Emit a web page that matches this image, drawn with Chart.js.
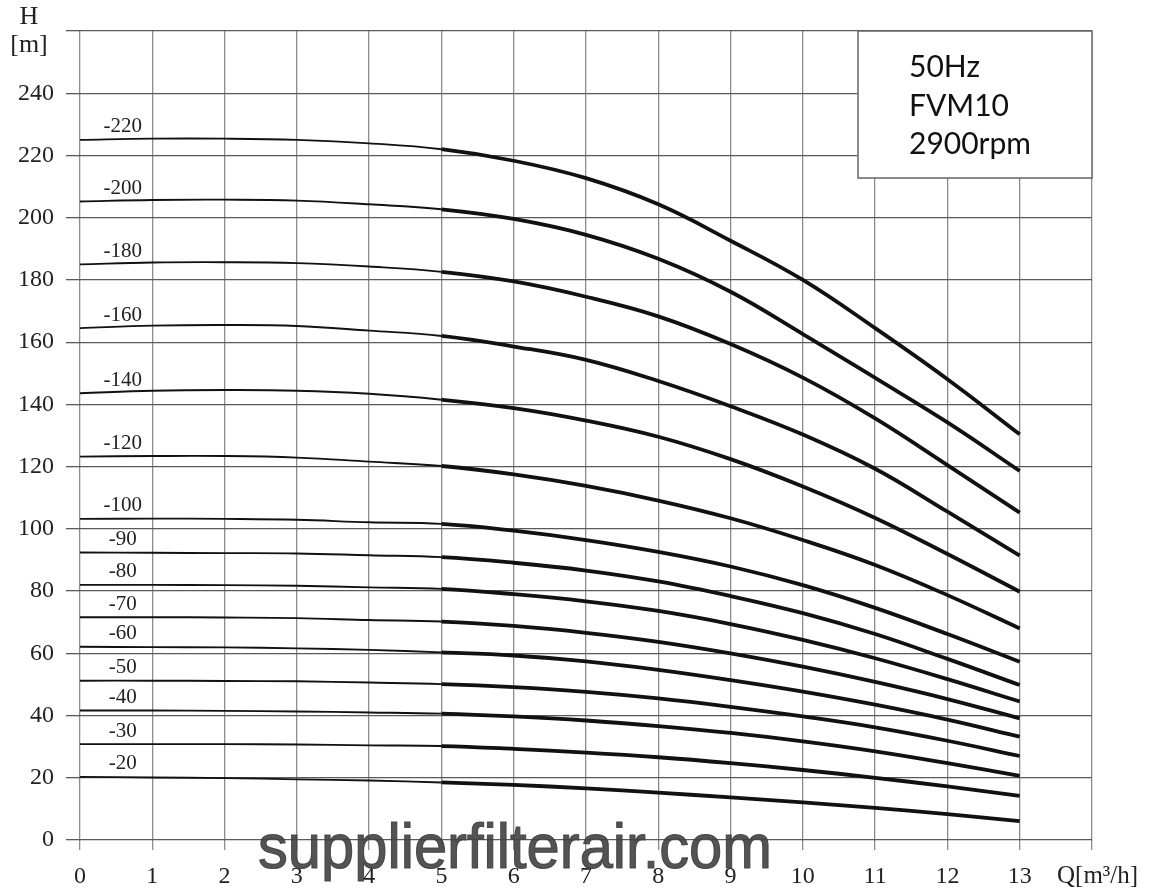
<!DOCTYPE html>
<html>
<head>
<meta charset="utf-8">
<script src="https://cdn.jsdelivr.net/npm/chart.js@4/dist/chart.umd.min.js"></script>
<style>
  html, body { margin: 0; padding: 0; background: #fff; }
  #wrap { width: 1155px; height: 891px; position: relative; }
</style>
</head>
<body>
<div id="wrap"><canvas id="chart"></canvas></div>
<script>
// flow Q [m3/h]
const flows = [0, 1, 2, 3, 4, 5, 6, 7, 8, 9, 10, 11, 12, 13];
const stageNames = ['-220', '-200', '-180', '-160', '-140', '-120', '-100', '-90', '-80', '-70', '-60', '-50', '-40', '-30', '-20'];

// head H [m] for each model
const h220 = [225, 225.4, 225.4, 225, 223.9, 222, 218.3, 212.7, 204.3, 192.6, 180, 164.5, 148.1, 130.4];
const h200 = [205.2, 205.7, 205.8, 205.5, 204.3, 202.7, 199.6, 194.5, 186.8, 176.2, 162.6, 148.5, 134.2, 118.6];
const h180 = [185, 185.6, 185.7, 185.4, 184.3, 182.6, 179.5, 174.6, 168.3, 159.4, 148.6, 135.5, 120.5, 105.2];
const h160 = [164.5, 165.3, 165.5, 165.2, 163.7, 162, 158.6, 154.3, 147.5, 139.4, 130.3, 119.3, 105.5, 91.4];
const h140 = [143.6, 144.4, 144.6, 144.4, 143.4, 141.5, 138.8, 134.8, 129.6, 122.4, 113.6, 103.5, 91.9, 79.8];
const h120 = [123.2, 123.4, 123.4, 122.9, 121.6, 120.2, 117.5, 113.8, 109.1, 103.4, 96.4, 88.4, 78.7, 68];
const h100 = [103.2, 103.3, 103.2, 102.9, 102.1, 101.6, 99.4, 96.4, 92.6, 87.9, 81.9, 74.6, 66.2, 57.3];
const h90 = [92.4, 92.3, 92.2, 92.1, 91.5, 90.9, 89.1, 86.6, 83.1, 78.4, 72.9, 66.2, 58.2, 49.8];
const h80 = [82, 82, 81.9, 81.7, 81.2, 80.7, 79, 76.7, 73.6, 69.4, 64.3, 58.4, 51.7, 44.5];
const h70 = [71.6, 71.6, 71.5, 71.3, 70.7, 70.2, 68.8, 66.6, 63.7, 60, 55.7, 50.8, 45.3, 39.1];
const h60 = [62.1, 62, 61.9, 61.6, 61.1, 60.3, 59.3, 57.4, 54.7, 51.4, 47.7, 43.5, 38.7, 33.2];
const h50 = [51.2, 51.2, 51.1, 51, 50.6, 50.1, 49.1, 47.6, 45.5, 42.8, 39.7, 36.2, 31.9, 27];
const h40 = [41.6, 41.6, 41.5, 41.3, 41, 40.6, 39.7, 38.4, 36.6, 34.4, 31.7, 28.5, 24.7, 20.6];
const h30 = [30.8, 30.8, 30.8, 30.7, 30.4, 30.2, 29.3, 28.1, 26.6, 24.7, 22.5, 20, 17.2, 14.2];
const h20 = [20.3, 20.1, 19.9, 19.5, 19.1, 18.5, 17.7, 16.6, 15.2, 13.7, 12.1, 10.3, 8.3, 6.1];

const curves = [h220, h200, h180, h160, h140, h120, h100, h90, h80, h70, h60, h50, h40, h30, h20];

const xTickMax = 14;      // last grid line, no number; unit label drawn beside it
const yTickMax = 260;
const infoLines = ['50Hz', 'FVM10', '2900rpm'];
const watermark = 'supplierfilterair.com';

const datasets = curves.map((c, i) => ({
    label: stageNames[i],
    data: flows.map((q, j) => ({ x: q, y: c[j] })),
    borderColor: '#111',
    borderWidth: 2,
    pointRadius: 0,
    tension: 0.4,
    // thin up to Q=5, heavy after
    segment: { borderWidth: ctx => ctx.p0.parsed.x >= 5 ? 3.8 : 1.9 }
}));

const serif = '"Liberation Serif", "Times New Roman", serif';

const extras = {
    id: 'extras',
    afterDatasetsDraw(chart) {
        const { ctx, chartArea, scales } = chart;
        const x = scales.x, y = scales.y;
        ctx.save();

        // stage labels above each curve start
        ctx.fillStyle = '#222';
        ctx.font = '21px ' + serif;
        ctx.textAlign = 'center';
        ctx.textBaseline = 'middle';
        curves.forEach((c, i) => {
            ctx.fillText(stageNames[i], x.getPixelForValue(0.59), y.getPixelForValue(c[0]) - 13);
        });

        // info box top right
        const bw = 234, bh = 147;
        const bx = chartArea.right - bw, by = chartArea.top;
        ctx.fillStyle = '#fff';
        ctx.fillRect(bx, by, bw, bh);
        ctx.strokeStyle = '#666';
        ctx.lineWidth = 1.5;
        ctx.strokeRect(bx, by, bw, bh);
        ctx.fillStyle = '#111';
        ctx.font = '30px Lato, "Open Sans", sans-serif';
        ctx.textAlign = 'left';
        ctx.textBaseline = 'alphabetic';
        infoLines.forEach((t, i) => ctx.fillText(t, bx + 51, by + 46 + i * 38.5));

        // axis titles
        ctx.fillStyle = '#222';
        ctx.font = '26px ' + serif;
        ctx.textAlign = 'center';
        ctx.textBaseline = 'middle';
        ctx.fillText('H', chartArea.left - 51, 17);
        ctx.fillText('[m]', chartArea.left - 51, 45);
        ctx.font = '25px ' + serif;
        ctx.textAlign = 'left';
        ctx.fillText('Q[m³/h]', chartArea.right - 35, 876);
        ctx.restore();
    },
    afterDraw(chart) {
        const { ctx } = chart;
        ctx.save();
        ctx.fillStyle = 'rgba(65,65,65,0.9)';
        ctx.strokeStyle = 'rgba(65,65,65,0.9)';
        ctx.lineWidth = 1.2;
        ctx.font = '63px "Liberation Sans", Arial, sans-serif';
        ctx.textAlign = 'left';
        ctx.textBaseline = 'alphabetic';
        ctx.fillText(watermark, 258, 868, 514);
        ctx.strokeText(watermark, 258, 868, 514);
        ctx.restore();
    }
};

new Chart(document.getElementById('chart'), {
    type: 'line',
    data: { datasets },
    options: {
        responsive: true,
        maintainAspectRatio: false,
        animation: false,
        layout: { padding: { top: 31, right: 63, left: 0, bottom: 0 } },
        plugins: { legend: { display: false }, tooltip: { enabled: false } },
        scales: {
            x: {
                type: 'linear',
                min: 0,
                max: xTickMax,
                afterFit: s => { s.height = 51; },
                grid: { color: '#8c8c8c', lineWidth: 1.3, tickLength: 10, tickColor: '#8c8c8c' },
                border: { display: false },
                ticks: {
                    stepSize: 1,
                    padding: 12,
                    color: '#222',
                    maxRotation: 0,
                    autoSkip: false,
                    font: { family: serif, size: 24 },
                    callback: v => v === xTickMax ? '' : v
                }
            },
            y: {
                type: 'linear',
                min: 0,
                max: yTickMax,
                afterFit: s => { s.width = 80; },
                grid: { color: '#5a5a5a', lineWidth: 1.3, tickLength: 14, tickColor: '#5a5a5a' },
                border: { display: false },
                ticks: {
                    stepSize: 20,
                    padding: 12,
                    color: '#222',
                    font: { family: serif, size: 24 },
                    callback: v => v === yTickMax ? '' : v
                }
            }
        }
    },
    plugins: [extras]
});
</script>
</body>
</html>
